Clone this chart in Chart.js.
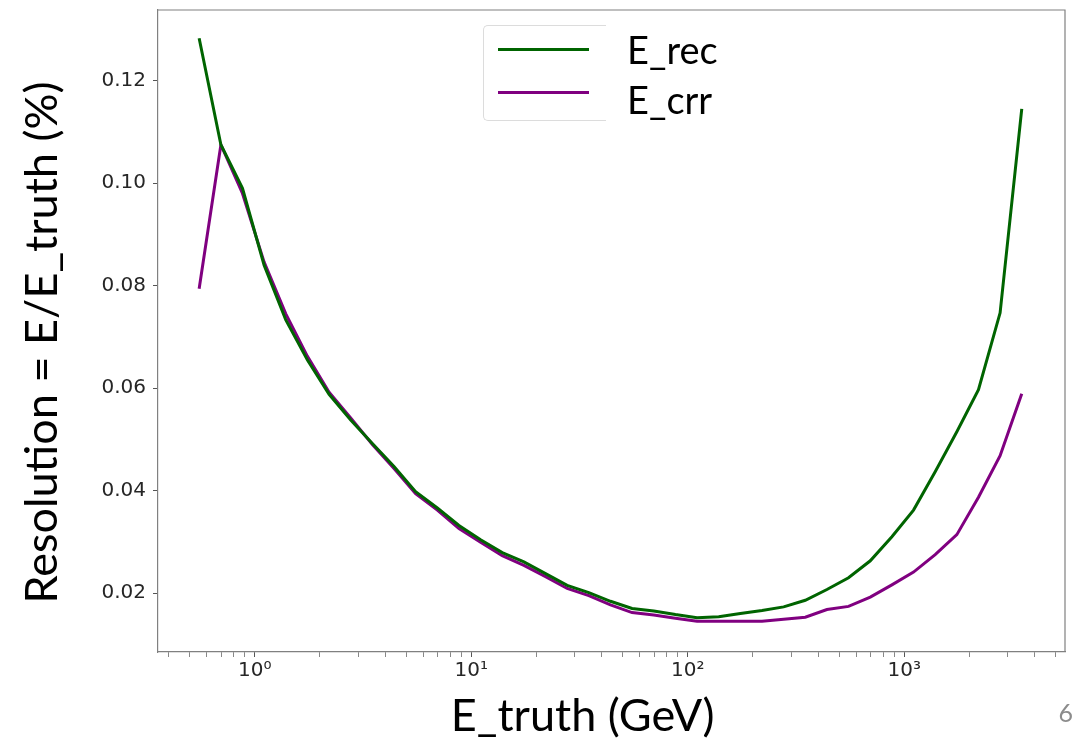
<!DOCTYPE html>
<html lang="en">
<head>
  <meta charset="UTF-8" />
  <title>Resolution vs E_truth</title>
  <style>
    body { margin:0; background:#fff; }
    #wrap { position:relative; width:1076px; height:739px; }
    canvas { display:block; }
    #legend-box { position:absolute; left:483px; top:25px; width:122px; height:94px;
                  border:1px solid #dcdcdc; border-right:none; border-radius:5px 0 0 5px; }
    #legend-box .swatch { position:absolute; left:14px; width:91px; height:3px; }
    #legend-labels { position:absolute; left:627px; top:24px; font-family:Lato, sans-serif;
                     font-size:38px; line-height:50px; color:#000; }
  </style>
</head>
<body>
  <div id="wrap">
    <canvas id="chart" width="1076" height="739"></canvas>
    <div id="legend-box"></div>
    <div id="legend-labels"></div>
  </div>

  <script src="https://cdn.jsdelivr.net/npm/chart.js"></script>
  <script>
  // E_truth bin centres (GeV)
  const energy = [0.553, 0.697, 0.877, 1.104, 1.390, 1.750, 2.203, 2.773, 3.491, 4.395,
                  5.53, 6.97, 8.77, 11.04, 13.90, 17.50, 22.03, 27.73, 34.91, 43.95,
                  55.3, 69.7, 87.7, 110.4, 139.0, 175.0, 220.3, 277.3, 349.1, 439.5,
                  553, 697, 877, 1104, 1390, 1750, 2203, 2773, 3491];

  const eRec = [0.1283, 0.1075, 0.0990, 0.0840, 0.0733, 0.0655, 0.0588, 0.0538, 0.0492, 0.0447,
                0.0398, 0.0366, 0.0332, 0.0304, 0.0279, 0.0261, 0.0238, 0.0215, 0.0201, 0.0184,
                0.0170, 0.0165, 0.0158, 0.0152, 0.0154, 0.0160, 0.0166, 0.0173, 0.0186, 0.0207,
                0.0230, 0.0263, 0.0310, 0.0362, 0.0437, 0.0515, 0.0597, 0.0747, 0.1145];

  const eCrr = [0.0794, 0.1075, 0.0980, 0.0846, 0.0745, 0.0662, 0.0592, 0.0542, 0.0490, 0.0443,
                0.0394, 0.0362, 0.0326, 0.0299, 0.0273, 0.0254, 0.0232, 0.0209, 0.0195, 0.0177,
                0.0162, 0.0157, 0.0151, 0.0145, 0.0145, 0.0145, 0.0145, 0.0149, 0.0153, 0.0168,
                0.0174, 0.0192, 0.0216, 0.0241, 0.0275, 0.0314, 0.0387, 0.0468, 0.0589];

  const yTicks = [0.02, 0.04, 0.06, 0.08, 0.10, 0.12];
  const xMajor = [1, 10, 100, 1000];
  const xTickLabels = ['10\u2070', '10\u00b9', '10\u00b2', '10\u00b3'];
  const seriesLabels = ['E_rec', 'E_crr'];
  const seriesColors = ['#006400', '#800080'];

  // minor ticks 2..9 x decade, inside the axis range
  const X_MIN = 0.357, X_MAX = 5530;
  const xMinor = [];
  [0.1, 1, 10, 100, 1000].forEach(d => {
    for (let k = 2; k <= 9; k++) {
      const v = +(k * d).toPrecision(3);
      if (v > X_MIN && v < X_MAX) xMinor.push(v);
    }
  });

  const toPts = ys => energy.map((x, i) => ({ x, y: ys[i] }));

  // frame on top/right and slide number
  const framePlugin = {
    id: 'frame',
    afterDraw(chart) {
      const { ctx, chartArea: a } = chart;
      ctx.save();
      ctx.strokeStyle = '#808080';
      ctx.lineWidth = 1.2;
      ctx.beginPath();
      ctx.moveTo(a.left, a.top); ctx.lineTo(a.right, a.top); ctx.lineTo(a.right, a.bottom);
      ctx.stroke();
      ctx.fillStyle = '#8c8c8c';
      ctx.font = '25px Lato';
      ctx.textAlign = 'right';
      ctx.textBaseline = 'alphabetic';
      ctx.fillText('6', 1073, 722);
      ctx.restore();
    }
  };

  // html legend built from the datasets
  const htmlLegend = {
    id: 'htmlLegend',
    afterUpdate(chart) {
      const box = document.getElementById('legend-box');
      const lab = document.getElementById('legend-labels');
      box.innerHTML = ''; lab.innerHTML = '';
      chart.data.datasets.forEach((ds, i) => {
        const sw = document.createElement('div');
        sw.className = 'swatch';
        sw.style.top = (21.5 + i * 43) + 'px';
        sw.style.background = ds.borderColor;
        box.appendChild(sw);
        const t = document.createElement('div');
        t.textContent = ds.label;
        lab.appendChild(t);
      });
    }
  };

  const tickFont = { family: 'DejaVu Sans', size: 20 };
  const titleFont = { family: 'Lato', size: 45, lineHeight: 1 };

  new Chart(document.getElementById('chart'), {
    type: 'line',
    data: {
      datasets: [
        { label: seriesLabels[0], data: toPts(eRec), borderColor: seriesColors[0],
          borderWidth: 3, pointRadius: 0, tension: 0 },
        { label: seriesLabels[1], data: toPts(eCrr), borderColor: seriesColors[1],
          borderWidth: 3, pointRadius: 0, tension: 0 }
      ]
    },
    options: {
      responsive: false,
      animation: false,
      layout: { padding: { top: 10, right: 11, left: 0, bottom: 0 } },
      plugins: { legend: { display: false }, tooltip: { enabled: false } },
      scales: {
        x: {
          type: 'logarithmic', min: X_MIN, max: X_MAX,
          afterBuildTicks: s => { s.ticks = xMinor.concat(xMajor).sort((a, b) => a - b).map(v => ({ value: v })); },
          afterFit: s => { s.height = 87; s.paddingLeft = 0; s.paddingRight = 0; },
          grid: { drawOnChartArea: false, tickLength: 5,
                  tickColor: c => xMajor.includes(c.tick && c.tick.value) ? '#555' : '#888' },
          border: { color: '#808080', width: 1.2 },
          ticks: {
            autoSkip: false, maxRotation: 0, padding: 2, color: '#262626', font: tickFont,
            callback: v => { const k = xMajor.indexOf(v); return k >= 0 ? xTickLabels[k] : ''; }
          },
          title: { display: true, text: 'E_truth (GeV)     ', color: '#000', font: titleFont,
                   padding: { top: 0, bottom: 0 } }
        },
        y: {
          min: 0.0085, max: 0.1338,
          afterBuildTicks: s => { s.ticks = yTicks.map(v => ({ value: v })); },
          afterFit: s => { s.width = 158; s.paddingTop = 0; s.paddingBottom = 0; },
          grid: { drawOnChartArea: false, tickLength: 5, tickColor: '#555' },
          border: { color: '#808080', width: 1.2 },
          ticks: { padding: 7, color: '#262626', font: tickFont, callback: v => v.toFixed(2) },
          title: { display: true, text: 'Resolution = E/E_truth (%)  ', color: '#000', font: titleFont,
                   padding: { top: 20, bottom: 0 } }
        }
      }
    },
    plugins: [framePlugin, htmlLegend]
  });
  </script>
</body>
</html>
